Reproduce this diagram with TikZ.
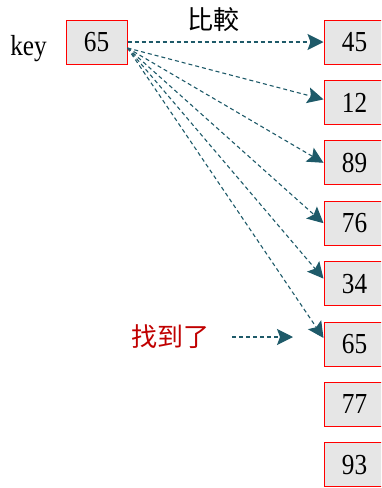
\documentclass[tikz,border=0pt]{standalone}
\usepackage{fontspec}
\setmainfont{Liberation Serif}
\newfontfamily\numfont[FakeStretch=0.87]{Liberation Serif}
\newfontfamily\cjkfont{Noto Sans CJK TC}
\usetikzlibrary{arrows.meta}
\definecolor{boxred}{RGB}{255,0,0}
\definecolor{boxfill}{RGB}{230,230,230}
\definecolor{arrteal}{RGB}{30,90,105}
\definecolor{foundred}{RGB}{192,0,0}
\begin{document}
\begin{tikzpicture}[x=1pt,y=-1pt,
  cell/.style={draw=boxred, fill=boxfill, line width=1pt, minimum width=61pt, minimum height=44pt, inner sep=0pt, font=\numfont\fontsize{29}{29}\selectfont},
  cmp/.style={draw=arrteal, line width=1.1pt, dash pattern=on 4pt off 3pt, -{Stealth[length=16pt,width=16pt,inset=3pt,fill=arrteal]}},
  lbl/.style={inner sep=0pt, font=\numfont\fontsize{29}{29}\selectfont},
  cjk/.style={inner sep=0pt, font=\cjkfont\fontsize{26}{26}\selectfont},
]
\useasboundingbox (0,0) rectangle (381,488);
\begin{scope}
\clip (0,0) rectangle (381,488);
\node[cell] (key) at (96.5,42) {65};
\node[lbl, anchor=base] (keylbl) at (28.5,55) {key};
\node[cjk] (cmp) at (213,20) {比較};
\node[cell] (r1) at (354.5,42) {45};
\node[cell] (r2) at (354.5,102.4) {12};
\node[cell] (r3) at (354.5,162.8) {89};
\node[cell] (r4) at (354.5,223.2) {76};
\node[cell] (r5) at (354.5,283.6) {34};
\node[cell] (r6) at (354.5,344) {65};
\node[cell] (r7) at (354.5,404.4) {77};
\node[cell] (r8) at (354.5,464.8) {93};
\coordinate (o) at ([yshift=-6pt]key.east);
\draw[cmp] (key.east) -- (r1.west);
\draw[cmp] (o) -- ([yshift=3pt]r2.west);
\draw[cmp] (o) -- (r3.west);
\draw[cmp] (o) -- (r4.west);
\draw[cmp] (o) -- ([yshift=5pt]r5.west);
\draw[cmp] (o) -- ([yshift=6pt]r6.west);
\node[cjk, text=foundred] (found) at (170,337) {找到了};
\coordinate (fa) at (232,337);
\coordinate (fb) at (293,337);
\draw[cmp] (fa) -- (fb);
\end{scope}
\end{tikzpicture}
\end{document}
